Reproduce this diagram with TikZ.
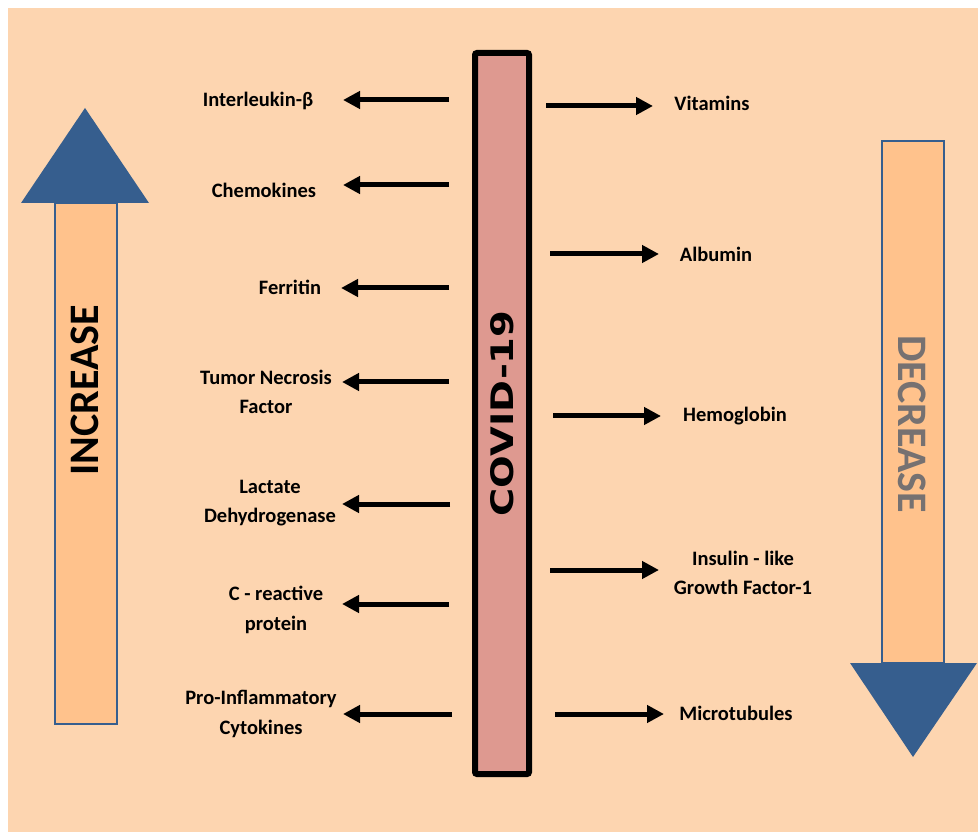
\documentclass[tikz,border=0pt]{standalone}
\usepackage{fontspec}
\setmainfont{Carlito}
\newfontfamily\covidfont{DejaVu Sans}
\usetikzlibrary{arrows.meta,positioning}
\definecolor{peach}{RGB}{253,213,176}
\definecolor{shaftfill}{RGB}{255,194,140}
\definecolor{arrowblue}{RGB}{54,94,142}
\definecolor{barpink}{RGB}{222,153,144}
\definecolor{decgray}{RGB}{118,113,113}

\begin{document}
\begin{tikzpicture}[x=1pt,y=-1pt,
	lbl/.style={font=\fontsize{20.5}{29.5}\selectfont\bfseries, align=center, inner sep=0pt},
	bigword/.style={font=\fontsize{42}{42}\selectfont\bfseries, inner sep=0pt},
	toarrow/.style={line width=5pt, -{Triangle[length=17pt,width=17pt]}},
	shaft/.style={draw=arrowblue, line width=2pt, fill=shaftfill}]
	\useasboundingbox (0,0) rectangle (978,834);
	\fill [peach] (8,8) rectangle (978,832);
	% increase arrow
	\fill [arrowblue] (85,108) -- (149,203) -- (21,203) -- cycle;
	\draw [shaft] (55,203) rectangle (117,724);
	\node (inc) [bigword, rotate=90] at (85,390) {INCREASE};
	% decrease arrow
	\draw [shaft] (882,141) rectangle (944,663);
	\fill [arrowblue] (850,663) -- (977,663) -- (913,757) -- cycle;
	\node (dec) [bigword, rotate=-90, text=decgray] at (912,424) {DECREASE};
	% covid bar
	\node (covid) [draw, line width=6pt, fill=barpink, rounded corners=2pt, rotate=90,
		minimum width=721pt, minimum height=54pt, inner sep=0pt,
		font=\covidfont\bfseries\fontsize{31}{31}\selectfont] at (502,413.5) {\scalebox{1.24}[1]{COVID-19}};
	% increased
	\coordinate (a1) at (449,100); \coordinate (b1) at (343,100);
	\coordinate (a2) at (449,185); \coordinate (b2) at (343,185);
	\coordinate (a3) at (449,288); \coordinate (b3) at (341,288);
	\coordinate (a4) at (449,382); \coordinate (b4) at (342,382);
	\coordinate (a5) at (450,504); \coordinate (b5) at (342,504);
	\coordinate (a6) at (449,604); \coordinate (b6) at (342,604);
	\coordinate (a7) at (452,714); \coordinate (b7) at (343,714);
	\node (il) [lbl] at (258,101) {Interleukin-β};
	\node (chem) [lbl] at (264,190) {Chemokines};
	\node (ferr) [lbl] at (290,287) {Ferritin};
	\node (tnf) [lbl] at (266,392) {Tumor Necrosis\\Factor};
	\node (ldh) [lbl] at (270,503) {Lactate\\Dehydrogenase};
	\node (crp) [lbl] at (276,610) {C - reactive\\protein};
	\node (cyto) [lbl] at (261,714) {Pro-Inflammatory\\Cytokines};
	\draw [toarrow] (a1) -- (b1);
	\draw [toarrow] (a2) -- (b2);
	\draw [toarrow] (a3) -- (b3);
	\draw [toarrow] (a4) -- (b4);
	\draw [toarrow] (a5) -- (b5);
	\draw [toarrow] (a6) -- (b6);
	\draw [toarrow] (a7) -- (b7);
	% decreased
	\coordinate (c1) at (546,106); \coordinate (d1) at (653,106);
	\coordinate (c2) at (550,254); \coordinate (d2) at (659,254);
	\coordinate (c3) at (553,416); \coordinate (d3) at (661,416);
	\coordinate (c4) at (550,570); \coordinate (d4) at (659,570);
	\coordinate (c5) at (555,714); \coordinate (d5) at (664,714);
	\node (vit) [lbl] at (712,103) {Vitamins};
	\node (alb) [lbl] at (716,254) {Albumin};
	\node (hb) [lbl] at (735,416) {Hemoglobin};
	\node (igf) [lbl] at (743,573) {Insulin - like\\Growth Factor-1};
	\node (mt) [lbl] at (736,713) {Microtubules};
	\draw [toarrow] (c1) -- (d1);
	\draw [toarrow] (c2) -- (d2);
	\draw [toarrow] (c3) -- (d3);
	\draw [toarrow] (c4) -- (d4);
	\draw [toarrow] (c5) -- (d5);
\end{tikzpicture}
\end{document}
